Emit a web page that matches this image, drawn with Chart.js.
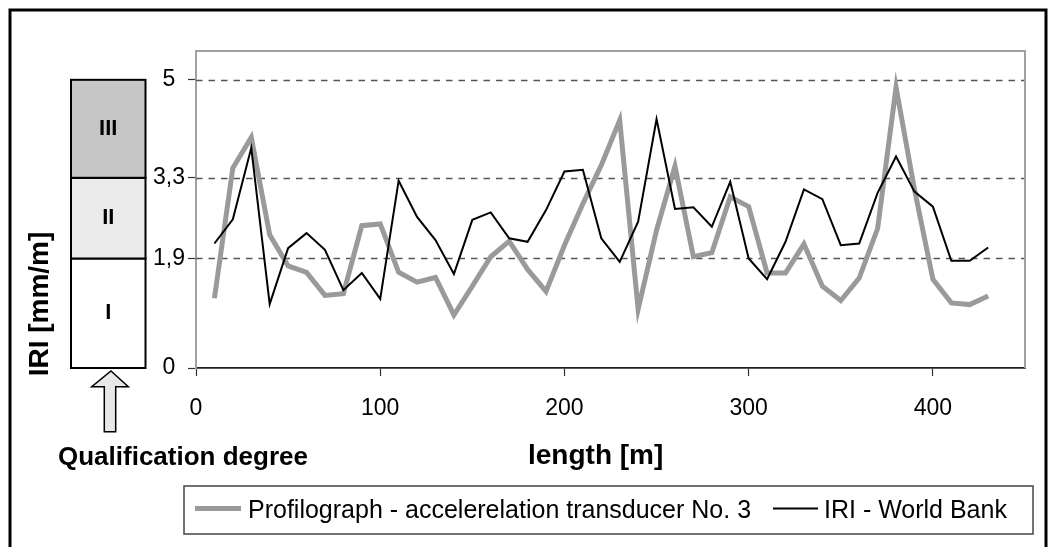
<!DOCTYPE html>
<html>
<head>
<meta charset="utf-8">
<script src="https://cdn.jsdelivr.net/npm/chart.js@4"></script>
<style>
  html, body { margin: 0; padding: 0; background: #fff; }
  #wrap { width: 1056px; height: 547px; }
</style>
</head>
<body>
<div id="wrap"><canvas id="iriChart" width="1056" height="547"></canvas></div>
<script>
// length along the road [m]
const lengths = [10, 20, 30, 40, 50, 60, 70, 80, 90, 100, 110, 120, 130, 140, 150,
  160, 170, 180, 190, 200, 210, 220, 230, 240, 250, 260, 270, 280, 290, 300,
  310, 320, 330, 340, 350, 360, 370, 380, 390, 400, 410, 420, 430];

// Profilograph - acceleration transducer No. 3
const profilograph = [1.21, 3.47, 4.00, 2.31, 1.77, 1.66, 1.26, 1.29, 2.47, 2.50,
  1.66, 1.49, 1.57, 0.92, 1.42, 1.93, 2.20, 1.71, 1.33, 2.13,
  2.85, 3.52, 4.30, 1.02, 2.39, 3.50, 1.93, 2.00, 2.97, 2.80,
  1.65, 1.65, 2.15, 1.42, 1.17, 1.56, 2.42, 4.87, 3.10, 1.54,
  1.13, 1.10, 1.25];

// IRI - World Bank
const iriWorldBank = [2.16, 2.58, 3.82, 1.11, 2.08, 2.34, 2.05, 1.35, 1.65, 1.20,
  3.25, 2.62, 2.22, 1.63, 2.57, 2.70, 2.25, 2.19, 2.74, 3.41,
  3.44, 2.25, 1.84, 2.54, 4.32, 2.76, 2.79, 2.45, 3.23, 1.90,
  1.54, 2.19, 3.10, 2.93, 2.13, 2.16, 3.04, 3.67, 3.06, 2.80,
  1.86, 1.86, 2.09];

const yTicks = [0, 1.9, 3.3, 5];

// qualification degrees, bottom to top
const degreeLabels = ['I', 'II', 'III'];
const degreeBounds = [0, 1.9, 3.3, 5];
const degreeFills  = ['#ffffff', '#ebebeb', '#c6c6c6'];

const FONT = "'Liberation Sans', Arial, Helvetica, sans-serif";
const GRAY = '#9a9a9a';

const toPoints = (vals) => vals.map((v, i) => ({ x: lengths[i], y: v }));

/* ---- extra drawing: background, dashed grid, frame, degree bar, titles, legend ---- */
const decor = {
  id: 'decor',
  beforeDraw(chart) {
    const { ctx } = chart;
    ctx.save();
    ctx.fillStyle = '#fff';
    ctx.fillRect(0, 0, chart.width, chart.height);
    ctx.restore();
  },
  beforeDatasetsDraw(chart) {
    const { ctx, chartArea: a, scales: { y } } = chart;
    ctx.save();
    ctx.strokeStyle = '#555';
    ctx.lineWidth = 1.5;
    ctx.setLineDash([6.5, 6]);
    yTicks.filter(v => v > 0).forEach(v => {
      const py = Math.round(y.getPixelForValue(v)) + 0.5;
      ctx.beginPath();
      ctx.moveTo(a.left, py);
      ctx.lineTo(a.right, py);
      ctx.stroke();
    });
    ctx.setLineDash([]);
    // plot area border (top, right)
    ctx.strokeStyle = '#a0a0a0';
    ctx.lineWidth = 2;
    ctx.beginPath();
    ctx.moveTo(a.left, a.top);
    ctx.lineTo(a.right, a.top);
    ctx.lineTo(a.right, a.bottom);
    ctx.stroke();
    ctx.restore();
  },
  afterDraw(chart) {
    const { ctx, scales: { y } } = chart;
    ctx.save();

    // outer frame
    ctx.strokeStyle = '#000';
    ctx.lineWidth = 3;
    ctx.beginPath();
    ctx.moveTo(10, 560);
    ctx.lineTo(10, 10);
    ctx.lineTo(1046, 10);
    ctx.lineTo(1046, 560);
    ctx.stroke();

    // qualification degree bar
    const bx = 71, bw = 74.5;
    ctx.lineWidth = 2;
    degreeLabels.forEach((lab, i) => {
      const y0 = y.getPixelForValue(degreeBounds[i]);
      const y1 = y.getPixelForValue(degreeBounds[i + 1]);
      ctx.fillStyle = degreeFills[i];
      ctx.fillRect(bx, y1, bw, y0 - y1);
      ctx.strokeStyle = '#000';
      ctx.strokeRect(bx, y1, bw, y0 - y1);
      ctx.fillStyle = '#000';
      ctx.font = 'bold 22px ' + FONT;
      ctx.textAlign = 'center';
      ctx.textBaseline = 'middle';
      ctx.fillText(lab, bx + bw / 2, (y0 + y1) / 2);
    });

    // arrow
    ctx.beginPath();
    ctx.moveTo(111, 371);
    ctx.lineTo(128.3, 386.7);
    ctx.lineTo(115.7, 386.7);
    ctx.lineTo(115.7, 431.7);
    ctx.lineTo(104.3, 431.7);
    ctx.lineTo(104.3, 386.7);
    ctx.lineTo(91.7, 386.7);
    ctx.closePath();
    ctx.fillStyle = '#e8e8e8';
    ctx.fill();
    ctx.lineWidth = 1.5;
    ctx.strokeStyle = '#000';
    ctx.stroke();

    // titles
    ctx.fillStyle = '#000';
    ctx.textBaseline = 'alphabetic';
    ctx.textAlign = 'left';
    ctx.font = 'bold 26px ' + FONT;
    ctx.fillText('Qualification degree', 58, 465);
    ctx.font = 'bold 28px ' + FONT;
    ctx.fillText('length [m]', 528, 464);
    ctx.save();
    ctx.translate(48, 304);
    ctx.rotate(-Math.PI / 2);
    ctx.textAlign = 'center';
    ctx.fillText('IRI [mm/m]', 0, 0);
    ctx.restore();

    // legend
    ctx.strokeStyle = '#444';
    ctx.lineWidth = 1.5;
    ctx.strokeRect(184, 486, 849, 48);
    ctx.font = '25px ' + FONT;
    const items = [
      { ds: chart.data.datasets[0], x0: 195, x1: 241, tx: 248 },
      { ds: chart.data.datasets[1], x0: 773, x1: 818, tx: 824 },
    ];
    items.forEach(it => {
      ctx.strokeStyle = it.ds.borderColor;
      ctx.lineWidth = it.ds.borderWidth;
      ctx.beginPath();
      ctx.moveTo(it.x0, 508.5);
      ctx.lineTo(it.x1, 508.5);
      ctx.stroke();
      ctx.fillStyle = '#000';
      ctx.fillText(it.ds.label, it.tx, 517.5);
    });

    ctx.restore();
  },
};

new Chart(document.getElementById('iriChart'), {
  type: 'line',
  data: {
    datasets: [
      {
        label: 'Profilograph - accelerelation transducer No. 3',
        data: toPoints(profilograph),
        borderColor: GRAY,
        borderWidth: 5,
        pointRadius: 0,
        tension: 0,
        order: 2,
      },
      {
        label: 'IRI - World Bank',
        data: toPoints(iriWorldBank),
        borderColor: '#000',
        borderWidth: 2,
        pointRadius: 0,
        tension: 0,
        order: 1,
      },
    ],
  },
  options: {
    responsive: false,
    animation: false,
    devicePixelRatio: 1,
    layout: { padding: { left: 0, right: 31, top: 51, bottom: 0 } },
    plugins: {
      legend:  { display: false },
      tooltip: { enabled: false },
    },
    scales: {
      x: {
        type: 'linear',
        min: 0,
        max: 450,
        afterFit: (s) => { s.height = 179; },
        grid:   { drawOnChartArea: false, tickLength: 8, tickColor: '#333', tickWidth: 1.2 },
        border: { color: '#222', width: 1.7 },
        ticks: {
          stepSize: 100,
          includeBounds: false,
          maxRotation: 0,
          padding: 19,
          color: '#000',
          font: { family: FONT, size: 23 },
        },
      },
      y: {
        min: 0,
        max: 5.5,
        afterBuildTicks: (s) => { s.ticks = yTicks.map(v => ({ value: v })); },
        afterFit: (s) => { s.width = 196; },
        grid:   { drawOnChartArea: false, tickLength: 8, tickColor: '#333', tickWidth: 1.2 },
        border: { color: '#a0a0a0', width: 2 },
        ticks: {
          crossAlign: 'center',
          padding: 3,
          color: '#000',
          font: { family: FONT, size: 23 },
          callback: (v) => String(v).replace('.', ','),
        },
      },
    },
  },
  plugins: [decor],
});
</script>
</body>
</html>
